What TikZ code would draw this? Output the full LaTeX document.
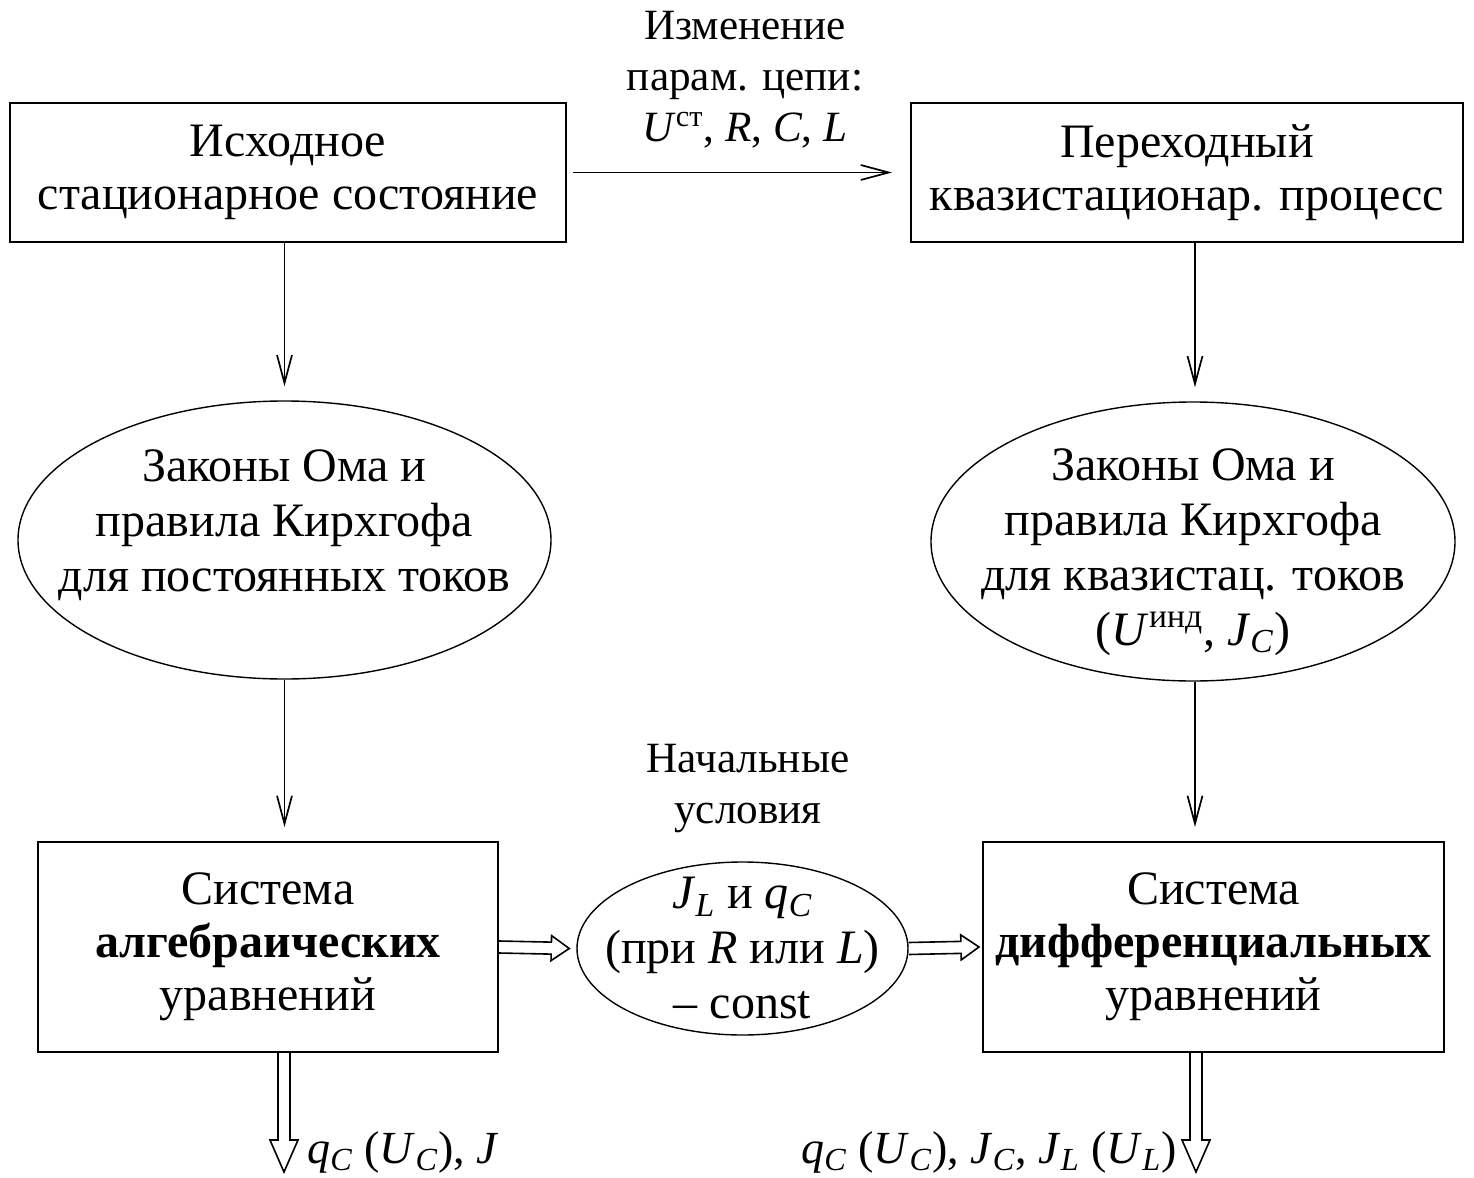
\documentclass[tikz,border=0pt]{standalone}
\usepackage{fontspec}
\setmainfont{Liberation Serif}
\usepackage{tikz}
\usetikzlibrary{arrows.meta,calc,shapes.geometric}

\newcommand{\isub}[2]{\textit{#1}\textsubscript{\textit{#2}}}
% outlined double-line arrow: start, end, head length, head half width
\newcommand{\hollowarrow}[4]{%
  \coordinate (hb) at ($(#2)!#3!(#1)$);
  \draw[hollow] ($(#1)!3pt!90:(#2)$) -- ($(hb)!3pt!90:(#2)$) -- ($(hb)!#4!90:(#2)$)
    -- (#2) -- ($(hb)!#4!-90:(#2)$) -- ($(hb)!3pt!-90:(#2)$) -- ($(#1)!3pt!-90:(#2)$);}

\begin{document}
\begin{tikzpicture}[x=0.5pt, y=-0.5pt,
  box/.style={rectangle, draw, line width=1pt, inner sep=0pt, align=center,
    font=\fontsize{24}{26.5}\selectfont},
  oval/.style={ellipse, draw, line width=0.7pt, inner sep=0pt},
  ovaltext/.style={inner sep=0pt, align=center, font=\fontsize{24}{27.5}\selectfont},
  note/.style={inner sep=0pt, align=center, font=\fontsize{21.6}{25.5}\selectfont},
  result/.style={inner sep=0pt, font=\fontsize{23}{26}\selectfont},
  arr/.style={line width=0.85pt, -{Straight Barb[length=14pt, width=7.5pt]}},
  hollow/.style={line width=0.8pt, line join=miter},
]
  \useasboundingbox (0,0) rectangle (1474,1178);

  \node[box, minimum width=278pt, minimum height=69.5pt] (start) at (288,172.5)
    {Исходное\\стационарное состояние};
  \node[box, minimum width=276pt, minimum height=69.5pt] (trans) at (1187,172.5)
    {Переходный\\квазистационар. процесс};

  \node[oval, minimum width=266.5pt, minimum height=139pt] (lawdc) at (284.5,540) {};
  \node[ovaltext] (lawdc-t) at (284.5,525)
    {Законы Ома и\\правила Кирхгофа\\для постоянных токов};
  \node[oval, minimum width=262pt, minimum height=139.5pt] (lawqs) at (1193,541.5) {};
  \node[ovaltext] (lawqs-t) at (1193,552)
    {Законы Ома и\\правила Кирхгофа\\для квазистац. токов\\(\textit{U}\textsuperscript{инд}, \isub{J}{C})};

  \node[box, minimum width=230pt, minimum height=105pt] (alg) at (268,947)
    {Система\\\textbf{алгебраических}\\уравнений};
  \node[box, minimum width=230.5pt, minimum height=105pt] (diff) at (1213.5,947)
    {Система\\\textbf{дифференциальных}\\уравнений};
  \node[oval, minimum width=165.5pt, minimum height=86.5pt] (init) at (742.5,948.5) {};
  \node[ovaltext] (init-t) at (742.5,948.5)
    {\isub{J}{L} и \isub{q}{C}\\(при \textit{R} или \textit{L})\\– const};

  \node[note] (change) at (745,80)
    {Изменение\\парам. цепи:\\\textit{U}\textsuperscript{ст}, \textit{R}, \textit{C}, \textit{L}};
  \node[note] (cond) at (748,789) {Начальные\\условия};

  \draw[arr, shorten <=3pt, shorten >=9pt] (start.east) -- (trans.west);
  \draw[arr, shorten >=7pt] (lawdc.north |- start.south) -- (lawdc.north);
  \draw[arr, shorten >=7pt] (lawdc.south) -- (lawdc.south |- alg.north);
  \draw[arr, shorten >=7pt] (trans.south -| 1195,0) -- (lawqs.north -| 1195,0);
  \draw[arr, shorten >=7pt] (lawqs.south -| 1195,0) -- (diff.north -| 1195,0);

  \coordinate (init-in) at ($(init.west)+(-7,0)$);
  \coordinate (diff-in) at ($(diff.west)+(-3,0)$);
  \hollowarrow{alg.east}{init-in}{9pt}{6.25pt}
  \hollowarrow{init.east}{diff-in}{9pt}{6.25pt}

  \coordinate (out-alg) at (284,1172);
  \coordinate (out-diff) at (1196,1172);
  \coordinate (alg-out) at (alg.south -| out-alg);
  \coordinate (diff-out) at (diff.south -| out-diff);
  \hollowarrow{alg-out}{out-alg}{16pt}{7pt}
  \hollowarrow{diff-out}{out-diff}{16pt}{7pt}

  \node[result, anchor=west] (res-alg) at (307,1152)
    {\isub{q}{C} (\isub{U}{C}), \textit{J}};
  \node[result, anchor=east] (res-diff) at (1177,1152)
    {\isub{q}{C} (\isub{U}{C}), \isub{J}{C}, \isub{J}{L} (\isub{U}{L})};
\end{tikzpicture}
\end{document}
